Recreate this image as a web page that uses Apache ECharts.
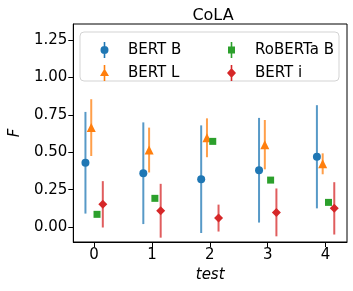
<!DOCTYPE html>
<html><head><meta charset="utf-8">
<script src="https://cdn.jsdelivr.net/npm/echarts@6/dist/echarts.min.js"></script>
<style>html,body{margin:0;padding:0;background:#fff}#c{width:353px;height:291px}</style>
</head><body><div id="c"></div>
<script>
var tests = [0, 1, 2, 3, 4];
var xTicks = [0, 1, 2, 3, 4];
var yTicks = [0, 0.25, 0.5, 0.75, 1.0, 1.25];
var bertB = [0.43, 0.36, 0.32, 0.38, 0.47];
var bertBErr = [0.34, 0.34, 0.36, 0.35, 0.345];
var bertL = [0.665, 0.515, 0.597, 0.551, 0.423];
var bertLErr = [0.19, 0.15, 0.13, 0.165, 0.07];
var roberta = [0.085, 0.192, 0.573, 0.314, 0.165];
var robertaErr = [0, 0, 0, 0, 0];
var bertI = [0.152, 0.109, 0.06, 0.098, 0.125];
var bertIErr = [0.155, 0.18, 0.09, 0.16, 0.175];

var names = ['BERT B', 'BERT L', 'RoBERTa B', 'BERT i'];
var colors = ['#1f77b4', '#ff7f0e', '#2ca02c', '#d62728'];
var barColors = ['rgba(31,119,180,0.75)', 'rgba(255,127,14,0.75)', 'rgba(44,160,44,0.75)', 'rgba(214,39,40,0.75)'];
var symbols = ['circle', 'triangle', 'rect', 'diamond'];
var sizes = [8, 9, 7, 9];
var offsets = [-0.15, -0.05, 0.05, 0.15];
var vals = [bertB, bertL, roberta, bertI];
var errs = [bertBErr, bertLErr, robertaErr, bertIErr];

var line = 'M6.2,0 L7.8,0 L7.8,5 L6.2,5 Z M6.2,11 L7.8,11 L7.8,16 L6.2,16 Z ';
var icons = [
  'path://' + line + 'M3,8 A4,4 0 1,1 11,8 A4,4 0 1,1 3,8 Z',
  'path://' + line + 'M7,3.5 L11.5,11 L2.5,11 Z',
  'path://' + line + 'M3.5,4.5 L10.5,4.5 L10.5,11.5 L3.5,11.5 Z',
  'path://' + line + 'M7,3 L11.5,8 L7,13 L2.5,8 Z'
];

var series = [];
names.forEach(function (n, i) {
  var ebData = tests.map(function (t, k) { return [t + offsets[i], vals[i][k] - errs[i][k], vals[i][k] + errs[i][k]]; });
  series.push({
    type: 'custom', name: n + ' err', z: 2, silent: true,
    data: ebData,
    encode: { x: 0, y: [1, 2] },
    renderItem: function (params, api) {
      var p1 = api.coord([api.value(0), api.value(1)]);
      var p2 = api.coord([api.value(0), api.value(2)]);
      return { type: 'line', shape: { x1: p1[0], y1: p1[1], x2: p2[0], y2: p2[1] },
        style: { stroke: barColors[i], lineWidth: 2 } };
    }
  });
  series.push({
    type: 'scatter', name: n, z: 3,
    symbol: symbols[i], symbolSize: sizes[i],
    itemStyle: { color: colors[i], opacity: 1 },
    data: tests.map(function (t, k) { return [t + offsets[i], vals[i][k]]; })
  });
});

var legendText = { fontFamily: 'DejaVu Sans', fontSize: 15, color: '#000', padding: [0, 0, 0, 14] };
var chart = echarts.init(document.getElementById('c'));
chart.setOption({
  animation: false,
  title: { text: 'CoLA', left: 208, top: 3, textAlign: 'center',
    textStyle: { fontFamily: 'DejaVu Sans', fontSize: 16, fontWeight: 'normal', color: '#000' } },
  graphic: [{ type: 'rect', z: 10, shape: { x: 80, y: 32, width: 259, height: 49, r: 4 },
    style: { fill: 'rgba(255,255,255,0.8)', stroke: '#d3d3d3', lineWidth: 1 } }],
  legend: [
    { orient: 'vertical', left: 95, top: 37, itemWidth: 9, itemHeight: 16, itemGap: 7, z: 20,
      data: [{ name: names[0], icon: icons[0], itemStyle: { color: colors[0] } },
             { name: names[1], icon: icons[1], itemStyle: { color: colors[1] } }],
      textStyle: legendText },
    { orient: 'vertical', left: 222, top: 37, itemWidth: 9, itemHeight: 16, itemGap: 7, z: 20,
      data: [{ name: names[2], icon: icons[2], itemStyle: { color: colors[2] } },
             { name: names[3], icon: icons[3], itemStyle: { color: colors[3] } }],
      textStyle: legendText }
  ],
  grid: { left: 68, right: 6, top: 24, bottom: 49, show: true, borderColor: '#000', borderWidth: 1 },
  xAxis: {
    type: 'value', min: -0.36, max: 4.37,
    name: 'test', nameLocation: 'middle', nameGap: 26,
    nameTextStyle: { fontFamily: 'DejaVu Sans', fontSize: 15, fontStyle: 'italic', color: '#000' },
    axisLine: { show: true, onZero: false, lineStyle: { color: '#000' } },
    axisTick: { show: true, length: 5, customValues: xTicks, lineStyle: { color: '#000' } },
    axisLabel: { customValues: xTicks, fontFamily: 'DejaVu Sans', fontSize: 15, color: '#000', margin: 6 },
    splitLine: { show: false }
  },
  yAxis: {
    type: 'value', min: -0.1, max: 1.358,
    name: 'F', nameLocation: 'middle', nameGap: 47, nameRotate: 90,
    nameTextStyle: { fontFamily: 'DejaVu Sans', fontSize: 15, fontStyle: 'italic', color: '#000' },
    axisLine: { show: true, onZero: false, lineStyle: { color: '#000' } },
    axisTick: { show: true, length: 5, customValues: yTicks, lineStyle: { color: '#000' } },
    axisLabel: { customValues: yTicks, fontFamily: 'DejaVu Sans', fontSize: 15, color: '#000', margin: 6,
      formatter: function (v) { return v.toFixed(2); } },
    splitLine: { show: false }
  },
  series: series
});
</script></body></html>
